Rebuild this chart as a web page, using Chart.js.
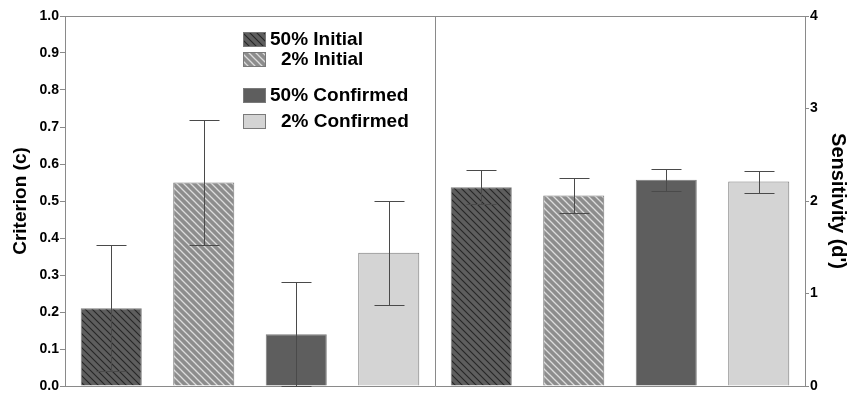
<!DOCTYPE html>
<html lang="en">
<head>
    <meta charset="UTF-8">
    <script src="https://cdn.jsdelivr.net/npm/chart.js@4.4.0/dist/chart.umd.min.js"></script>
    <style>
        html, body { margin: 0; padding: 0; background: #fff; }
        #wrap { width: 854px; height: 418px; }
    </style>
</head>
<body>
    <div id="wrap"><canvas id="myChart"></canvas></div>
    <script>
        const categories = ['50% Initial', '2% Initial', '50% Confirmed', '2% Confirmed',
                            '50% Initial', '2% Initial', '50% Confirmed', '2% Confirmed'];
        // left panel: criterion (c)
        const criterion = [0.21, 0.55, 0.14, 0.36, null, null, null, null];
        const criterionLow = [0.04, 0.38, 0.0, 0.22];
        const criterionHigh = [0.38, 0.72, 0.28, 0.50];
        // right panel: sensitivity (d')
        const sensitivity = [null, null, null, null, 2.15, 2.06, 2.23, 2.21];
        const sensitivityLow = [1.97, 1.87, 2.11, 2.09];
        const sensitivityHigh = [2.34, 2.25, 2.35, 2.32];
        const criterionTicks = [0, 0.1, 0.2, 0.3, 0.4, 0.5, 0.6, 0.7, 0.8, 0.9, 1.0];
        const sensitivityTicks = [0, 1, 2, 3, 4];

        const FONT = 'Liberation Sans, Arial, sans-serif';

        function hatch(bg, line, width) {
            const s = 7;
            const c = document.createElement('canvas');
            c.width = s; c.height = s;
            const g = c.getContext('2d');
            g.fillStyle = bg;
            g.fillRect(0, 0, s, s);
            g.strokeStyle = line;
            g.lineWidth = width;
            g.beginPath();
            g.moveTo(-1, -1); g.lineTo(s + 1, s + 1);
            g.moveTo(-1, s - 1); g.lineTo(1, s + 1);
            g.moveTo(s - 1, -1); g.lineTo(s + 1, 1);
            g.stroke();
            return g.createPattern(c, 'repeat');
        }

        const fills = [
            hatch('#5e5e5e', '#262626', 1.1),
            hatch('#8d8d8d', '#dcdcdc', 1.3),
            '#5e5e5e',
            '#d4d4d4'
        ];
        const barFills = fills.concat(fills);

        const extras = {
            id: 'extras',
            afterDatasetsDraw(chart) {
                const ctx = chart.ctx;
                const x = chart.scales.x, y = chart.scales.y, y2 = chart.scales.y2;
                const area = chart.chartArea;
                ctx.save();
                // frame top + divider
                ctx.strokeStyle = '#8a8a8a';
                ctx.lineWidth = 1;
                ctx.beginPath();
                ctx.moveTo(area.left, area.top + 0.5);
                ctx.lineTo(area.right, area.top + 0.5);
                const mid = Math.round((x.getPixelForValue(3) + x.getPixelForValue(4)) / 2) + 0.5;
                ctx.moveTo(mid, area.top);
                ctx.lineTo(mid, area.bottom);
                ctx.stroke();

                // error bars
                ctx.strokeStyle = '#4a4a4a';
                for (let i = 0; i < 8; i++) {
                    const sc = i < 4 ? y : y2;
                    const lo = i < 4 ? criterionLow[i] : sensitivityLow[i - 4];
                    const hi = i < 4 ? criterionHigh[i] : sensitivityHigh[i - 4];
                    const cx = Math.round(x.getPixelForValue(i)) + 0.5;
                    const yl = Math.round(sc.getPixelForValue(lo)) + 0.5;
                    const yh = Math.round(sc.getPixelForValue(hi)) + 0.5;
                    ctx.beginPath();
                    ctx.moveTo(cx, yl); ctx.lineTo(cx, yh);
                    ctx.moveTo(cx - 15, yl); ctx.lineTo(cx + 15, yl);
                    ctx.moveTo(cx - 15, yh); ctx.lineTo(cx + 15, yh);
                    ctx.stroke();
                }

                // legend
                const rows = [
                    { label: '50% Initial', top: 32, tx: 270 },
                    { label: '2% Initial', top: 52, tx: 281 },
                    { label: '50% Confirmed', top: 88, tx: 270 },
                    { label: '2% Confirmed', top: 114, tx: 281 }
                ];
                ctx.font = 'bold 19px ' + FONT;
                ctx.textBaseline = 'middle';
                ctx.textAlign = 'left';
                rows.forEach((r, i) => {
                    ctx.fillStyle = fills[i];
                    ctx.fillRect(243, r.top, 23, 15);
                    ctx.strokeStyle = '#7a7a7a';
                    ctx.strokeRect(243.5, r.top + 0.5, 22, 14);
                    ctx.fillStyle = '#000';
                    ctx.fillText(r.label, r.tx, r.top + 8);
                });
                ctx.restore();
            }
        };

        const ctx = document.getElementById('myChart');

        new Chart(ctx, {
            type: 'bar',
            data: {
                labels: categories,
                datasets: [{
                        label: 'Criterion (c)',
                        data: criterion,
                        yAxisID: 'y',
                        backgroundColor: barFills,
                        borderColor: '#7a7a7a',
                        borderWidth: 1
                    },
                    {
                        label: "Sensitivity (d')",
                        data: sensitivity,
                        yAxisID: 'y2',
                        backgroundColor: barFills,
                        borderColor: '#7a7a7a',
                        borderWidth: 1
                    }
                ]
            },
            options: {
                responsive: true,
                maintainAspectRatio: false,
                animation: false,
                grouped: false,
                barPercentage: 0.66,
                categoryPercentage: 1,
                layout: { padding: { top: 16, left: 0, right: 0, bottom: 0 } },
                plugins: { legend: { display: false }, tooltip: { enabled: false } },
                scales: {
                    x: {
                        ticks: { display: false },
                        grid: { display: false },
                        border: { color: '#8a8a8a' },
                        afterFit(s) { s.height = 32; }
                    },
                    y: {
                        position: 'left',
                        min: 0,
                        max: 1,
                        afterBuildTicks(s) { s.ticks = criterionTicks.map(v => ({ value: v })); },
                        ticks: {
                            color: '#000',
                            padding: 1,
                            font: { family: FONT, size: 14, weight: 'bold' },
                            callback: v => v.toFixed(1)
                        },
                        grid: { drawOnChartArea: false, tickLength: 5, color: '#8a8a8a' },
                        border: { color: '#8a8a8a' },
                        title: {
                            display: true,
                            text: 'Criterion (c)',
                            color: '#000',
                            padding: { top: 9, bottom: 0 },
                            font: { family: FONT, size: 19, weight: 'bold' }
                        },
                        afterFit(s) { s.width = 65; }
                    },
                    y2: {
                        position: 'right',
                        min: 0,
                        max: 4,
                        afterBuildTicks(s) { s.ticks = sensitivityTicks.map(v => ({ value: v })); },
                        ticks: {
                            color: '#000',
                            padding: 1,
                            font: { family: FONT, size: 14, weight: 'bold' }
                        },
                        grid: { drawOnChartArea: false, tickLength: 4, color: '#8a8a8a' },
                        border: { color: '#8a8a8a' },
                        title: {
                            display: true,
                            text: "Sensitivity (d')",
                            color: '#000',
                            padding: { top: 4, bottom: 0 },
                            font: { family: FONT, size: 20, weight: 'bold' }
                        },
                        afterFit(s) { s.width = 49; }
                    }
                }
            },
            plugins: [extras]
        });
    </script>
</body>
</html>
